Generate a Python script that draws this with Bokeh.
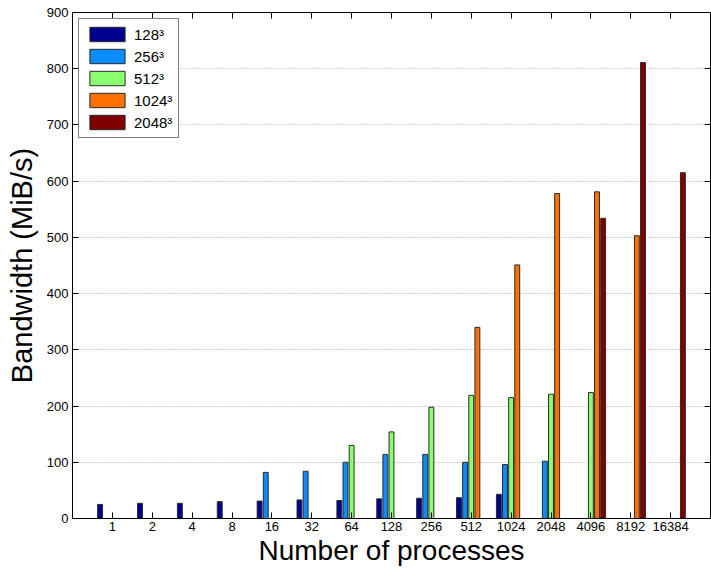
import math
from bokeh.plotting import figure
from bokeh.models import ColumnDataSource, LinearAxis, FixedTicker, Range1d
from bokeh.embed import file_html
from bokeh.resources import INLINE
from bokeh.transform import dodge

nan = float("nan")

# Number of processes (x categories)
procs = ["1", "2", "4", "8", "16", "32", "64", "128", "256", "512",
         "1024", "2048", "4096", "8192", "16384"]

# Bandwidth (MiB/s) per problem size
bw_128 = [25, 27, 27, 30, 31, 33, 32, 35, 36, 37, 43, nan, nan, nan, nan]
bw_256 = [nan, nan, nan, nan, 82, 84, 100, 114, 114, 100, 96, 102, nan, nan, nan]
bw_512 = [nan, nan, nan, nan, nan, nan, 130, 154, 198, 219, 215, 221, 224, nan, nan]
bw_1024 = [nan, nan, nan, nan, nan, nan, nan, nan, nan, 340, 451, 578, 581, 503, nan]
bw_2048 = [nan, nan, nan, nan, nan, nan, nan, nan, nan, nan, nan, nan, 534, 811, 615]

series_labels = ["128³", "256³", "512³", "1024³", "2048³"]
series_values = [bw_128, bw_256, bw_512, bw_1024, bw_2048]
colors = ["#00008f", "#0a8cff", "#8cff70", "#ff7000", "#800000"]

y_ticks = [0, 100, 200, 300, 400, 500, 600, 700, 800, 900]

FONT = "Liberation Sans"

p = figure(width=711, height=568, output_backend="svg", toolbar_location=None,
           x_range=Range1d(0, len(procs) + 1), y_range=Range1d(0, 900),
           min_border_left=72, min_border_right=1, min_border_top=12,
           min_border_bottom=50)

pitch = 0.1538
bar_w = 0.123
for k, (lab, vals, col) in enumerate(zip(series_labels, series_values, colors)):
    xs = [i + 1 for i, v in enumerate(vals) if not math.isnan(v)]
    tops = [v for v in vals if not math.isnan(v)]
    src = ColumnDataSource(dict(x=xs, top=tops))
    p.vbar(x=dodge("x", (k - 2) * pitch, range=p.x_range), top="top", bottom=0,
           width=bar_w, source=src, fill_color=col, line_color="#2a2a2a",
           line_width=1, legend_label=lab)

x_ticks = list(range(1, len(procs) + 1))

# bottom axis
xa = p.xaxis[0]
xa.ticker = FixedTicker(ticks=x_ticks)
xa.major_label_overrides = {i + 1: s for i, s in enumerate(procs)}
xa.axis_label = "Number of processes"
xa.axis_label_text_font = FONT
xa.axis_label_text_font_size = "28px"
xa.axis_label_text_font_style = "normal"
xa.axis_label_text_color = "black"
xa.axis_label_standoff = 1
xa.major_label_text_font = FONT
xa.major_label_text_font_size = "13px"
xa.major_label_text_color = "black"
xa.major_label_standoff = 3
xa.major_tick_in = 6
xa.major_tick_out = 0
xa.minor_tick_line_color = None
xa.axis_line_color = "black"
xa.major_tick_line_color = "black"

# left axis
ya = p.yaxis[0]
ya.ticker = FixedTicker(ticks=y_ticks)
ya.axis_label = "Bandwidth (MiB/s)"
ya.axis_label_text_font = FONT
ya.axis_label_text_font_size = "29px"
ya.axis_label_text_font_style = "normal"
ya.axis_label_text_color = "black"
ya.axis_label_standoff = 6
ya.major_label_text_font = FONT
ya.major_label_text_font_size = "13px"
ya.major_label_text_color = "black"
ya.major_label_standoff = 4
ya.major_tick_in = 6
ya.major_tick_out = 0
ya.minor_tick_line_color = None
ya.axis_line_color = "black"
ya.major_tick_line_color = "black"

# box ticks on top and right (no labels)
top_ax = LinearAxis(ticker=FixedTicker(ticks=x_ticks),
                    major_label_overrides={t: "" for t in x_ticks},
                    major_label_text_font_size="1px",
                    major_label_standoff=0, major_tick_in=6, major_tick_out=0,
                    minor_tick_line_color=None, axis_line_color="black",
                    major_tick_line_color="black")
right_ax = LinearAxis(ticker=FixedTicker(ticks=y_ticks),
                      major_label_overrides={t: "" for t in y_ticks},
                      major_label_text_font_size="1px",
                      major_label_standoff=0, major_tick_in=6, major_tick_out=0,
                      minor_tick_line_color=None, axis_line_color="black",
                      major_tick_line_color="black")
p.add_layout(top_ax, "above")
p.add_layout(right_ax, "right")

p.xgrid.visible = False
p.ygrid.ticker = FixedTicker(ticks=y_ticks)
p.ygrid.grid_line_color = "#a0a0a0"
p.ygrid.grid_line_dash = "1 2"
p.ygrid.grid_line_width = 1

p.outline_line_color = "black"
p.outline_line_width = 1
p.background_fill_color = "white"
p.border_fill_color = "white"

lg = p.legend[0]
lg.location = "top_left"
lg.margin = 6
lg.padding = 6
lg.spacing = 4
lg.glyph_width = 44
lg.glyph_height = 18
lg.label_standoff = 5
lg.label_text_font = FONT
lg.label_text_font_size = "15px"
lg.label_text_color = "black"
lg.border_line_color = "black"
lg.border_line_width = 1
lg.background_fill_alpha = 1.0

open("out.html", "w").write(file_html(p, INLINE))
